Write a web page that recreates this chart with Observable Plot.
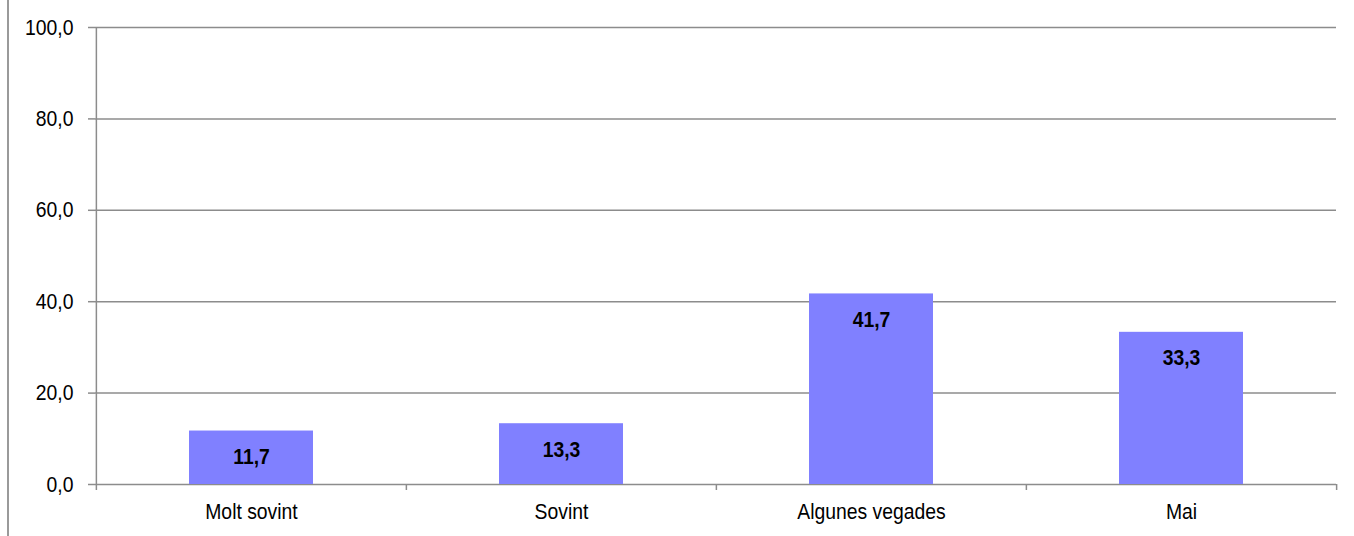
<!DOCTYPE html>
<html>
<head>
<meta charset="utf-8">
<script src="https://cdn.jsdelivr.net/npm/d3@7"></script>
<script src="https://cdn.jsdelivr.net/npm/@observablehq/plot@0.6"></script>
<style>
  html, body { margin: 0; padding: 0; background: #fff; }
  #wrap { position: relative; width: 1354px; height: 536px; }
  #border { position: absolute; left: 7px; top: 0; width: 2px; height: 536px; background: #9a9a9a; }
</style>
</head>
<body>
<div id="wrap"><div id="border"></div></div>
<script>
const categories = ["Molt sovint", "Sovint", "Algunes vegades", "Mai"];
const values = [11.7, 13.3, 41.7, 33.3];
const yTicks = [0, 20, 40, 60, 80, 100];

const data = categories.map((c, i) => ({category: c, value: values[i]}));
const fmt = d => d.toFixed(1).replace(".", ",");
const gridColor = "#8c8c8c";
const W = 1354, mL = 95, mR = 18;
const half = (W - mL - mR) / categories.length / 2;
const FONT = "'Liberation Sans', Arial, sans-serif";
const FS = 22;

const chart = Plot.plot({
  width: W,
  height: 536,
  marginLeft: mL,
  marginRight: mR,
  marginTop: 27,
  marginBottom: 52,
  style: {fontFamily: FONT, fontSize: FS + "px", color: "#000", background: "transparent"},
  x: {domain: categories, paddingInner: 0.6, paddingOuter: 0.3, label: null},
  y: {domain: [0, 100], label: null},
  marks: [
    Plot.ruleY(yTicks, {stroke: gridColor, strokeWidth: 1.5}),
    Plot.barY(data, {x: "category", y: "value", fill: "#8080FF"}),
    Plot.text(data, {x: "category", y: "value", text: d => fmt(d.value), dy: 26, fontWeight: "bold", fontSize: FS, fill: "#000"}),
    Plot.ruleX(categories, {x: d => d, y1: 0, y2: 0, insetBottom: -6, dx: -half, stroke: gridColor, strokeWidth: 1.5}),
    Plot.ruleX(categories.slice(-1), {x: d => d, y1: 0, y2: 0, insetBottom: -6, dx: half, stroke: gridColor, strokeWidth: 1.5}),
    Plot.ruleX([categories[0]], {x: d => d, y1: 0, y2: 100, dx: -half, stroke: gridColor, strokeWidth: 1.5}),
    Plot.axisY(yTicks, {tickFormat: fmt, tickSize: 7, tickPadding: 15, stroke: gridColor, strokeWidth: 1.5, fill: "#000", fontSize: FS, label: null}),
    Plot.axisX({tickSize: 0, tickPadding: 19, fill: "#000", fontSize: FS, label: null})
  ]
});
document.getElementById("wrap").appendChild(chart);
// condense glyphs horizontally to mimic the narrow font of the original
chart.querySelectorAll("text").forEach(t => {
  const w = t.getComputedTextLength();
  if (w > 0) {
    t.setAttribute("textLength", (w * 0.88).toFixed(1));
    t.setAttribute("lengthAdjust", "spacingAndGlyphs");
  }
});
</script>
</body>
</html>
